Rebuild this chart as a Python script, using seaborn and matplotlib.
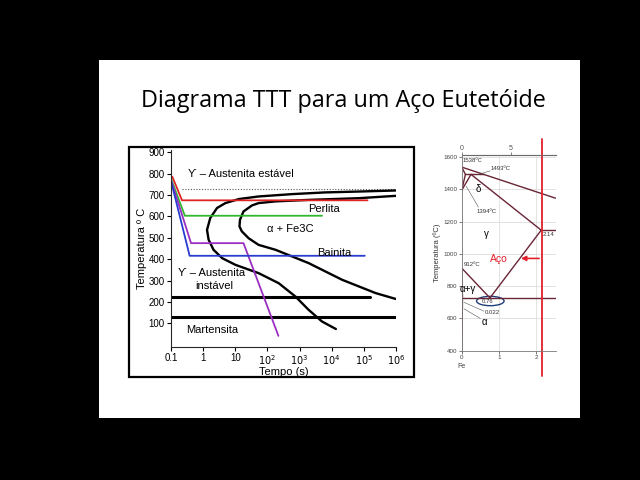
import matplotlib
matplotlib.use("Agg")
import numpy as np
import pandas as pd
import matplotlib.pyplot as plt
import seaborn as sns
from matplotlib.patches import Rectangle, Ellipse

# ---- TTT diagram data (time in s, temperature in C) ----
start_t = [1e6, 7e4, 6300, 590, 53, 13, 4.9, 2.7, 1.66, 1.32, 1.48, 2.1, 3.9, 10, 53, 224, 740, 1900, 5000, 13500]
start_T = [721, 716, 712, 704, 693, 681, 662, 639, 592, 537, 491, 444, 405, 374, 335, 288, 226, 164, 109, 74]
finish_t = [1e6, 7e4, 1900, 178, 53, 33, 18, 14, 13.5, 16, 26, 53, 178, 1900, 21000, 2.3e5, 1e6]
finish_T = [696, 685, 677, 670, 662, 651, 623, 584, 553, 530, 498, 467, 444, 382, 304, 242, 214]
a1_t = [0.22, 1e6]
a1_T = [727, 727]
ms_t = [0.1, 1.6e5]
ms_T = [223, 223]
mf_t = [0.1, 1e6]
mf_T = [128, 128]
red_t = [0.11, 0.22, 1.3e5]
red_T = [785, 675, 675]
green_t = [0.1, 0.27, 5000]
green_T = [776, 603, 603]
purple_t = [0.1, 0.42, 18, 220]
purple_T = [770, 475, 475, 42]
blue_t = [0.1, 0.38, 1.07e5]
blue_T = [766, 416, 416]
ttt_xticks = [0.1, 1, 10, 1e2, 1e3, 1e4, 1e5, 1e6]
ttt_xlabels = ["0.1", "1", "10", "$10^2$", "$10^3$", "$10^4$", "$10^5$", "$10^6$"]
ttt_yticks = [100, 200, 300, 400, 500, 600, 700, 800, 900]

# ---- Fe-C phase diagram data (wt% C, temperature in C) ----
liq_x = [0, 2.53]
liq_T = [1538, 1345]
sol_x = [0.25, 2.14]
sol_T = [1493, 1147]
eut_x = [2.14, 2.53]
eut_T = [1147, 1147]
peri_x = [0.1, 0.6]
peri_T = [1493, 1493]
delta1_x = [0, 0.1, 0]
delta1_T = [1538, 1493, 1394]
delta2_x = [0, 0.25]
delta2_T = [1394, 1493]
a3_x = [0, 0.76]
a3_T = [912, 727]
acm_x = [0.76, 2.14]
acm_T = [727, 1147]
eutd_x = [0.022, 2.53]
eutd_T = [727, 727]
alpha_x = [0, 0.022, 0.0]
alpha_T = [912, 727, 400]
steel_x = [2.16, 2.16]
steel_T = [244, 1710]
fe_yticks = [400, 600, 800, 1000, 1200, 1400, 1600]
fe_xticks = [0, 1, 2]

sns.set_style("ticks")
plt.rcParams["font.family"] = ["Liberation Sans", "DejaVu Sans"]
plt.rcParams["text.color"] = "black"
plt.rcParams["axes.labelcolor"] = "black"
plt.rcParams["xtick.color"] = "black"
plt.rcParams["ytick.color"] = "black"

fig = plt.figure(figsize=(6.4, 4.8), dpi=100, facecolor="black")

# slide
slide = fig.add_axes([99 / 640, 1 - 418 / 480, 481 / 640, 358 / 480])
slide.set_facecolor("white")
slide.set_xticks([])
slide.set_yticks([])
for s in slide.spines.values():
    s.set_visible(False)

fig.text(343 / 640, 1 - 101 / 480, "Diagrama TTT para um Aço Eutetóide",
         ha="center", va="center", fontsize=16.8, color="black",
         family=["Open Sans", "DejaVu Sans"])

# frame around TTT picture
fig.patches.append(Rectangle((129 / 640, 1 - 377 / 480), 285 / 640, 230 / 480,
                             transform=fig.transFigure, fill=False, ec="black", lw=1.6))

# =============================================================================
# TTT diagram
# =============================================================================
ax = fig.add_axes([171 / 640, 1 - 347 / 480, 225 / 640, 197 / 480])
ax.set_facecolor("white")


def draw(axis, x, y, color, lw=1.3, ls="-"):
    df = pd.DataFrame({"x": x, "y": y})
    sns.lineplot(data=df, x="x", y="y", sort=False, estimator=None, errorbar=None,
                 color=color, lw=lw, ls=ls, ax=axis)


draw(ax, a1_t, a1_T, "#555555", lw=0.8, ls=(0, (1, 1.5)))
draw(ax, start_t, start_T, "black", lw=1.7)
draw(ax, finish_t, finish_T, "black", lw=1.7)
draw(ax, ms_t, ms_T, "black", lw=2.2)
draw(ax, mf_t, mf_T, "black", lw=2.2)
draw(ax, red_t, red_T, "#e02424")
draw(ax, green_t, green_T, "#2fb82f")
draw(ax, purple_t, purple_T, "#9a2fc0")
draw(ax, blue_t, blue_T, "#2a3bd0")

ax.set_xscale("log")
ax.set_xlim(0.1, 1e6)
ax.set_ylim(-10, 910)
ax.set_xticks(ttt_xticks)
ax.set_xticklabels(ttt_xlabels)
ax.minorticks_off()
ax.set_yticks(ttt_yticks)
ax.tick_params(labelsize=7, length=3, width=0.8, pad=1.5)
ax.set_xlabel("Tempo (s)", fontsize=8, labelpad=0)
ax.set_ylabel("Temperatura º C", fontsize=8, labelpad=1)
sns.despine(ax=ax, top=True, right=True)

tfs = 8
ax.text(0.33, 797, "ϒ – Austenita estável", fontsize=tfs, va="center")
ax.text(1800, 635, "Perlita", fontsize=tfs, va="center")
ax.text(95, 540, "α + Fe3C", fontsize=tfs, va="center")
ax.text(3500, 431, "Bainita", fontsize=tfs, va="center")
ax.text(0.17, 335, "ϒ – Austenita", fontsize=tfs, va="center")
ax.text(0.55, 273, "instável", fontsize=tfs, va="center")
ax.text(0.29, 70, "Martensita", fontsize=tfs, va="center")

# =============================================================================
# Fe-C phase diagram
# =============================================================================
bx = fig.add_axes([461.7 / 640, 1 - 350.7 / 480, 94 / 640, 195.7 / 480])
bx.set_facecolor("white")
pc = "#6a2536"
for x, T in [(liq_x, liq_T), (sol_x, sol_T), (eut_x, eut_T), (peri_x, peri_T),
             (delta1_x, delta1_T), (delta2_x, delta2_T), (a3_x, a3_T),
             (acm_x, acm_T), (eutd_x, eutd_T), (alpha_x, alpha_T)]:
    draw(bx, x, T, pc, lw=1.0)
draw(bx, steel_x, steel_T, "#e0202a", lw=1.3)
bx.lines[-1].set_clip_on(False)
bx.set_xlim(0, 2.53)
bx.set_ylim(400, 1613)

bx.set_yticks(fe_yticks)
bx.set_xticks(fe_xticks)
bx.set_xlabel("")
bx.grid(True, color="#d8d8d8", lw=0.5)
bx.tick_params(labelsize=4.5, length=2, width=0.5, pad=1, colors="#444444")
for s in bx.spines.values():
    s.set_color("#777777")
    s.set_linewidth(0.6)
bx.spines["right"].set_visible(False)
bx.set_ylabel("Temperatura (ºC)", fontsize=5.5, labelpad=2, color="#333333")
top = bx.secondary_xaxis("top", functions=(lambda v: v * 3.76, lambda v: v / 3.76))
top.set_xticks([0, 5])
top.tick_params(labelsize=5, length=2, width=0.5, pad=0.5, colors="#555555")

sfs = 4.3
bx.text(0.02, 1572, "1538ºC", fontsize=sfs, color="#333333")
bx.text(0.78, 1520, "1493ºC", fontsize=sfs, color="#333333")
bx.plot([0.45, 0.77], [1493, 1515], color="#555555", lw=0.4)
bx.text(0.4, 1255, "1394ºC", fontsize=sfs, color="#333333")
bx.plot([0.12, 0.45], [1420, 1290], color="#555555", lw=0.4)
bx.text(0.05, 925, "912ºC", fontsize=sfs, color="#333333")
bx.text(2.18, 1112, "2.14", fontsize=sfs, color="#333333")
bx.text(0.55, 694, "0.76", fontsize=sfs, color="#333333")
bx.text(0.62, 628, "0.022", fontsize=sfs, color="#333333")
bx.plot([0.06, 0.6], [700, 645], color="#555555", lw=0.4)
bx.plot([0.06, 0.5], [660, 600], color="#555555", lw=0.4)
bx.add_patch(Ellipse((0.77, 708), 0.74, 58, fill=False, ec="#1f3e78", lw=1.0))
bx.text(0.44, 1403, "δ", fontsize=7, ha="center", va="center")
bx.text(0.67, 1125, "γ", fontsize=7, ha="center", va="center")
bx.text(0.17, 780, "α+γ", fontsize=7, ha="center", va="center")
bx.text(0.62, 578, "α", fontsize=7, ha="center", va="center")
bx.text(1.0, 968, "Aço", fontsize=7.5, color="#e0202a", ha="center", va="center")
bx.annotate("", xy=(1.52, 972), xytext=(2.16, 972),
            arrowprops=dict(arrowstyle="-|>", color="#e0202a", lw=1.2, mutation_scale=7))
bx.text(0.0, 300, "Fe", fontsize=5, color="#444444", ha="center", va="center", clip_on=False)

fig.savefig("out.png", dpi=100, facecolor="black")
